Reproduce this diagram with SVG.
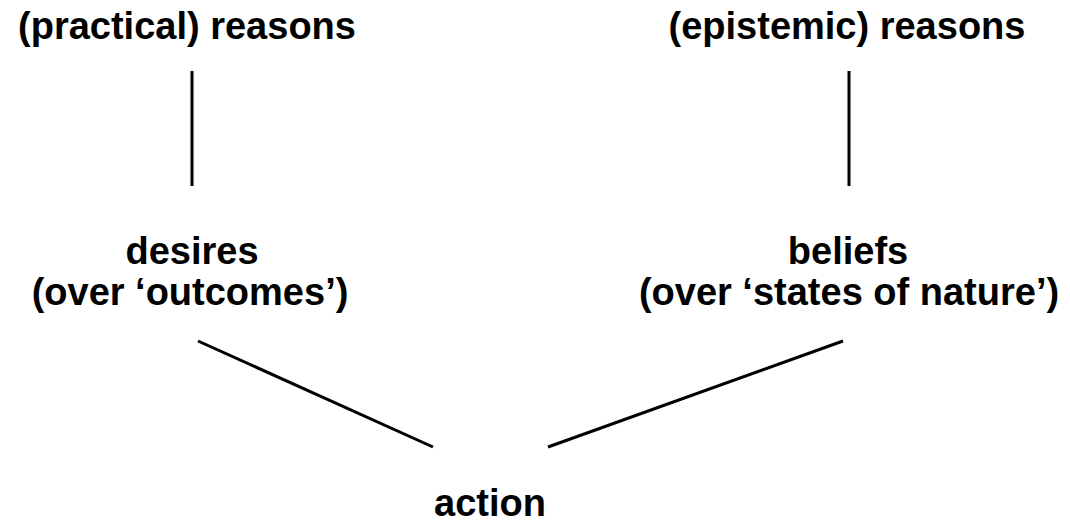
<svg xmlns="http://www.w3.org/2000/svg" width="1070" height="524" viewBox="0 0 1070 524">
<style>
text{font-family:"Liberation Sans",Arial,sans-serif;font-weight:bold;font-size:38px;fill:#000;text-anchor:middle}
line{stroke:#000;stroke-width:3;fill:none}
</style>
<rect width="1070" height="524" fill="#fff"/>
<g id="practical"><text x="187" y="39">(practical) reasons</text></g>
<g id="epistemic"><text x="847" y="39">(epistemic) reasons</text></g>
<g id="desires"><text x="192" y="264">desires</text><text x="190" y="305">(over ‘outcomes’)</text></g>
<g id="beliefs"><text x="848" y="264">beliefs</text><text x="849" y="305">(over ‘states of nature’)</text></g>
<g id="action"><text x="490" y="516">action</text></g>
<g id="connectors">
<line x1="192" y1="71" x2="192" y2="186"/>
<line x1="849" y1="71" x2="849" y2="186"/>
<line x1="198" y1="341" x2="433" y2="447"/>
<line x1="548" y1="447" x2="843" y2="341"/>
</g>
</svg>
